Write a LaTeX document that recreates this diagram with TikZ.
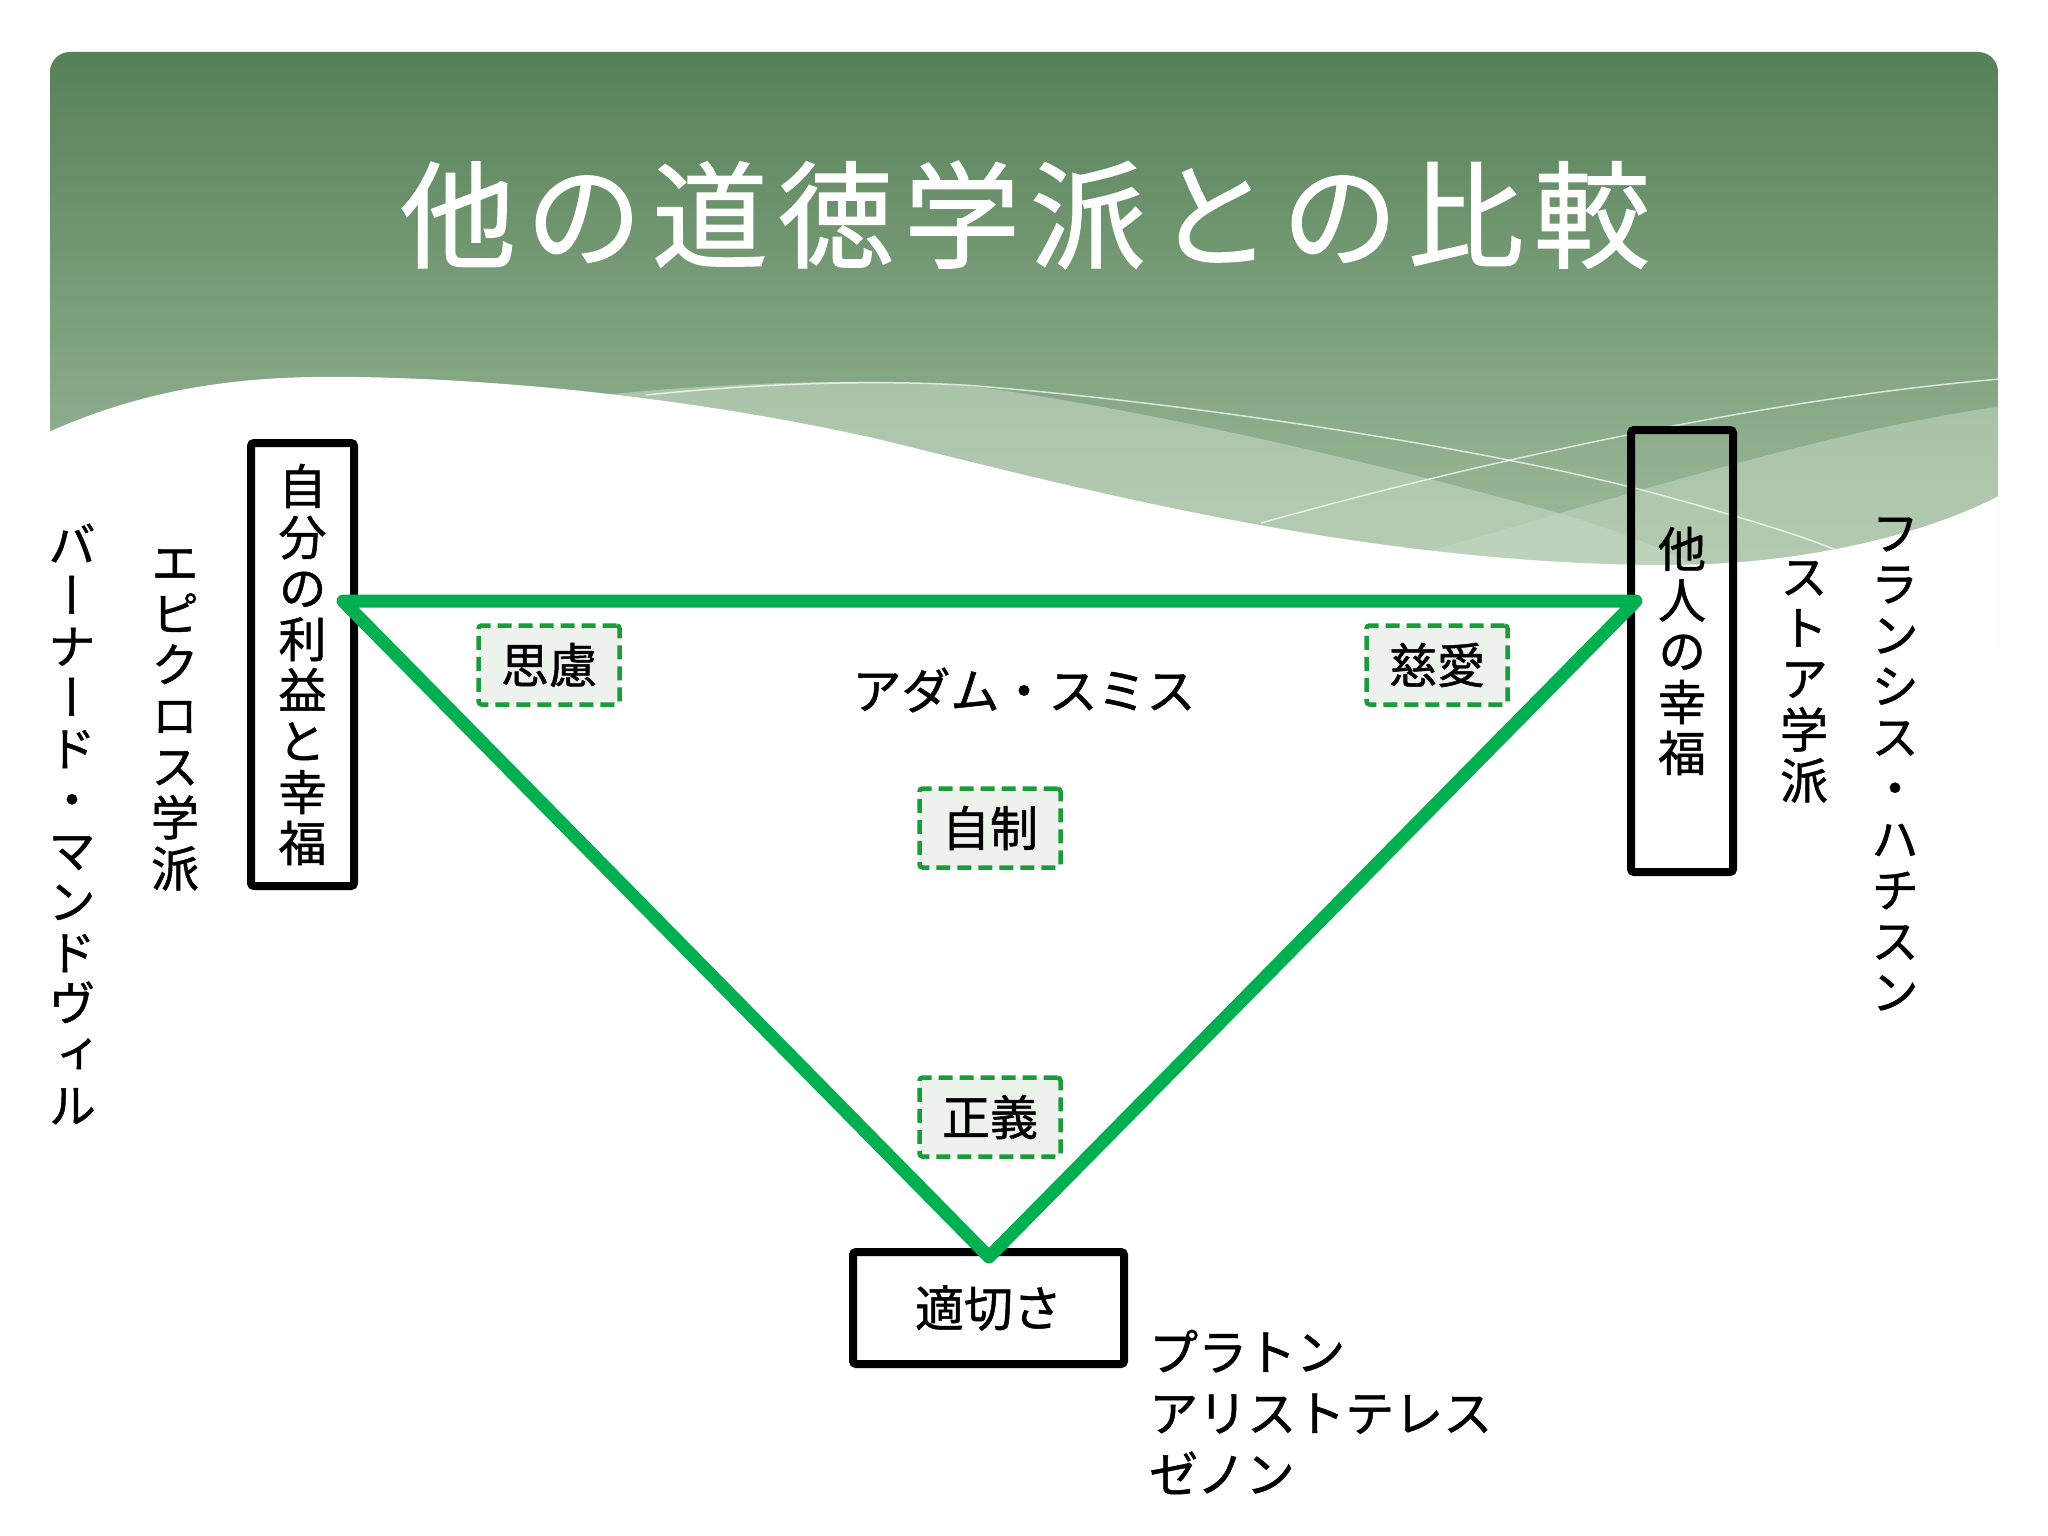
\documentclass[tikz,border=0pt]{standalone}
\usepackage{fontspec}
\newfontfamily\jp[FakeBold=1]{Noto Sans CJK JP}
\newfontfamily\vjp[RawFeature=+vert,FakeBold=1]{Noto Sans CJK JP}
\definecolor{trigreen}{RGB}{0,176,80}
\definecolor{dgreen}{RGB}{26,156,58}
\definecolor{dfill}{RGB}{238,242,236}
\definecolor{hdtop}{RGB}{86,129,87}
\definecolor{hdbot}{RGB}{164,192,162}
\definecolor{bandc}{RGB}{196,216,194}
\tikzset{
  solidbox/.style={draw=black, line width=8pt, rounded corners=3pt, inner sep=0pt},
  vtext/.style={font=\vjp\fontsize{48}{51}\selectfont, align=center, inner sep=0pt},
  htext/.style={font=\jp\fontsize{49}{61}\selectfont, inner sep=0pt},
  virtue/.style={draw=dgreen, fill=dfill, line width=4.5pt, dash pattern=on 14pt off 7pt,
    rounded corners=3pt, minimum width=141pt, minimum height=79pt, inner sep=0pt,
    font=\jp\fontsize{48}{50}\selectfont},
  triline/.style={draw=trigreen, line width=13pt, line join=round, line cap=round},
  wline/.style={draw=white, line width=1.5pt, opacity=0.7}
}
\begin{document}
\begin{tikzpicture}[x=1pt,y=1pt]
\useasboundingbox (0,0) rectangle (2048,-1536);
\fill[white] (0,0) rectangle (2048,-1536);

% header with waves
\begin{scope}
  \clip[rounded corners=20pt] (50,-52) rectangle (1998,-720);
  \shade[top color=hdtop, bottom color=hdbot] (50,-52) rectangle (1998,-600);
  \fill[bandc, opacity=0.6] (560,-400) .. controls (700,-382) and (900,-375) .. (1000,-390)
     .. controls (1200,-420) and (1400,-470) .. (1555,-512)
     .. controls (1650,-540) and (1750,-580) .. (1800,-650) -- (560,-650) -- cycle;
  \fill[bandc, opacity=0.55] (1150,-620) .. controls (1450,-560) and (1750,-440) .. (2010,-405)
     -- (2010,-650) -- cycle;
  \draw[wline] (646,-395) .. controls (760,-383) and (900,-378) .. (1000,-388)
     .. controls (1200,-405) and (1500,-450) .. (1668,-497)
     .. controls (1740,-517) and (1800,-535) .. (1836,-550);
  \draw[wline] (1261,-523) .. controls (1450,-470) and (1750,-400) .. (2000,-379);
  \fill[white] (40,-436) .. controls (150,-385) and (250,-375) .. (359,-377)
     .. controls (520,-380) and (700,-400) .. (869,-437)
     .. controls (1050,-480) and (1350,-565) .. (1668,-565)
     .. controls (1800,-565) and (1930,-535) .. (2010,-490)
     -- (2010,-720) -- (40,-720) -- cycle;
\end{scope}

\node[font=\jp\fontsize{116}{120}\selectfont, text=white] (title) at (1025,-215)
  {他\kern10pt の\kern10pt 道\kern10pt 徳\kern10pt 学\kern10pt 派\kern10pt と\kern10pt の\kern10pt 比\kern10pt 較};

% boxes
\node[solidbox, minimum width=103pt, minimum height=443pt, vtext] (selfbox) at (302.5,-664.5)
  {自\\分\\の\\利\\益\\と\\幸\\福};
\node[solidbox, minimum width=102pt, minimum height=442pt, vtext] (otherbox) at (1682,-651)
  {他\\人\\の\\幸\\福};
\node[solidbox, minimum width=271pt, minimum height=112pt, htext] (fitbox) at (988.5,-1308)
  {適切さ};

% side labels
\node[vtext] (epic) at (175,-720) {エ\\ピ\\ク\\ロ\\ス\\学\\派};
\node[vtext] (mand) at (72,-824) {バ\\ー\\ナ\\ー\\ド\\・\\マ\\ン\\ド\\ヴ\\ィ\\ル};
\node[vtext] (stoa) at (1804,-682) {ス\\ト\\ア\\学\\派};
\node[vtext] (hutch) at (1895,-764) {フ\\ラ\\ン\\シ\\ス\\・\\ハ\\チ\\ス\\ン};

\node[htext] (adam) at (1024,-690) {アダム・スミス};
\node[htext, anchor=west, align=left] (greeks) at (1149,-1412) {プラトン\\アリストテレス\\ゼノン};

% virtues
\node[virtue] (prud) at (549,-665) {思慮};
\node[virtue] (bene) at (1437,-665) {慈愛};
\node[virtue] (self) at (990,-828) {自制};
\node[virtue] (just) at (990,-1117) {正義};

% triangle
\coordinate (tl) at (343,-601);
\coordinate (tr) at (1636,-601);
\coordinate (bt) at (989,-1257);
\draw[triline] (tl) -- (tr) -- (bt) -- cycle;
\end{tikzpicture}
\end{document}
